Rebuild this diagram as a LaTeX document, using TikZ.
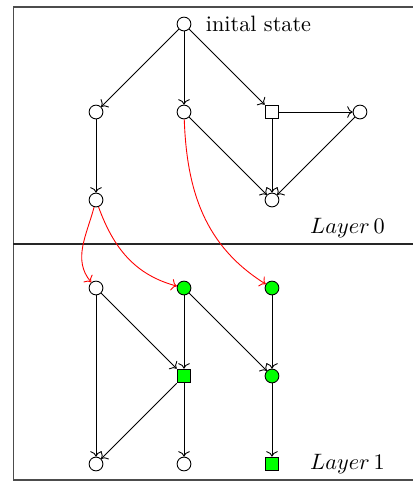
\documentclass[tikz,border=0pt]{standalone}
\usepackage{amsmath,amssymb}
\usetikzlibrary{arrows.meta,positioning}

\begin{document}
\begin{tikzpicture}[x=1.39cm,y=1.39cm,>=To,
 st/.style={draw,circle,inner sep=0pt,minimum size=6.2pt},
 act/.style={draw,rectangle,inner sep=0pt,minimum size=6.2pt},
 hit/.style={fill=green},
 jump/.style={->,red},
 every node/.style={font=\normalsize}]
\useasboundingbox (-1.091,0.273) rectangle (3.602,-5.216);
% frame and layer separator
\coordinate (ftr) at (3.602,0.193);
\coordinate (ftl) at (-0.94,0.193);
\coordinate (fbl) at (-0.94,-5.18);
\coordinate (fbr) at (3.602,-5.18);
\coordinate (sepl) at (-0.94,-2.5);
\coordinate (sepr) at (3.602,-2.5);
\draw[line width=0.6pt,black!70] (ftr) -- (ftl) -- (fbl) -- (fbr);
\draw[thick,black!85] (sepl) -- (sepr);
% layer 0
\node[st] (init) at (1,0) {};
\node[right=3pt of init] (initlab) {inital state};
\node[st] (a1) at (0,-1) {};
\node[st] (b1) at (1,-1) {};
\node[act] (c1) at (2,-1) {};
\node[st] (d1) at (3,-1) {};
\node[st] (a2) at (0,-2) {};
\node[st] (c2) at (2,-2) {};
\node[anchor=east] (lay0) at (3.37,-2.32) {$Layer\,0$};
% layer 1
\node[st] (a3) at (0,-3) {};
\node[st,hit] (b3) at (1,-3) {};
\node[st,hit] (c3) at (2,-3) {};
\node[act,hit] (b4) at (1,-4) {};
\node[st,hit] (c4) at (2,-4) {};
\node[st] (a5) at (0,-5) {};
\node[st] (b5) at (1,-5) {};
\node[act,hit] (c5) at (2,-5) {};
\node[anchor=east] (lay1) at (3.37,-5) {$Layer\,1$};
% transitions
\draw[->] (init) -- (a1);
\draw[->] (init) -- (b1);
\draw[->] (init) -- (c1);
\draw[->] (a1) -- (a2);
\draw[->] (b1) -- (c2);
\draw[->] (c1) -- (d1);
\draw[->] (c1) -- (c2);
\draw[->] (d1) -- (c2);
\draw[->] (a3) -- (a5);
\draw[->] (a3) -- (b4);
\draw[->] (b3) -- (b4);
\draw[->] (b3) -- (c4);
\draw[->] (c3) -- (c4);
\draw[->] (b4) -- (a5);
\draw[->] (b4) -- (b5);
\draw[->] (c4) -- (c5);
% jumps between layers
\draw[jump] (a2) to[out=-105,in=130] (a3);
\draw[jump] (a2) to[out=-70,in=165] (b3);
\draw[jump] (b1) to[out=-88,in=148] (c3);
\end{tikzpicture}
\end{document}
